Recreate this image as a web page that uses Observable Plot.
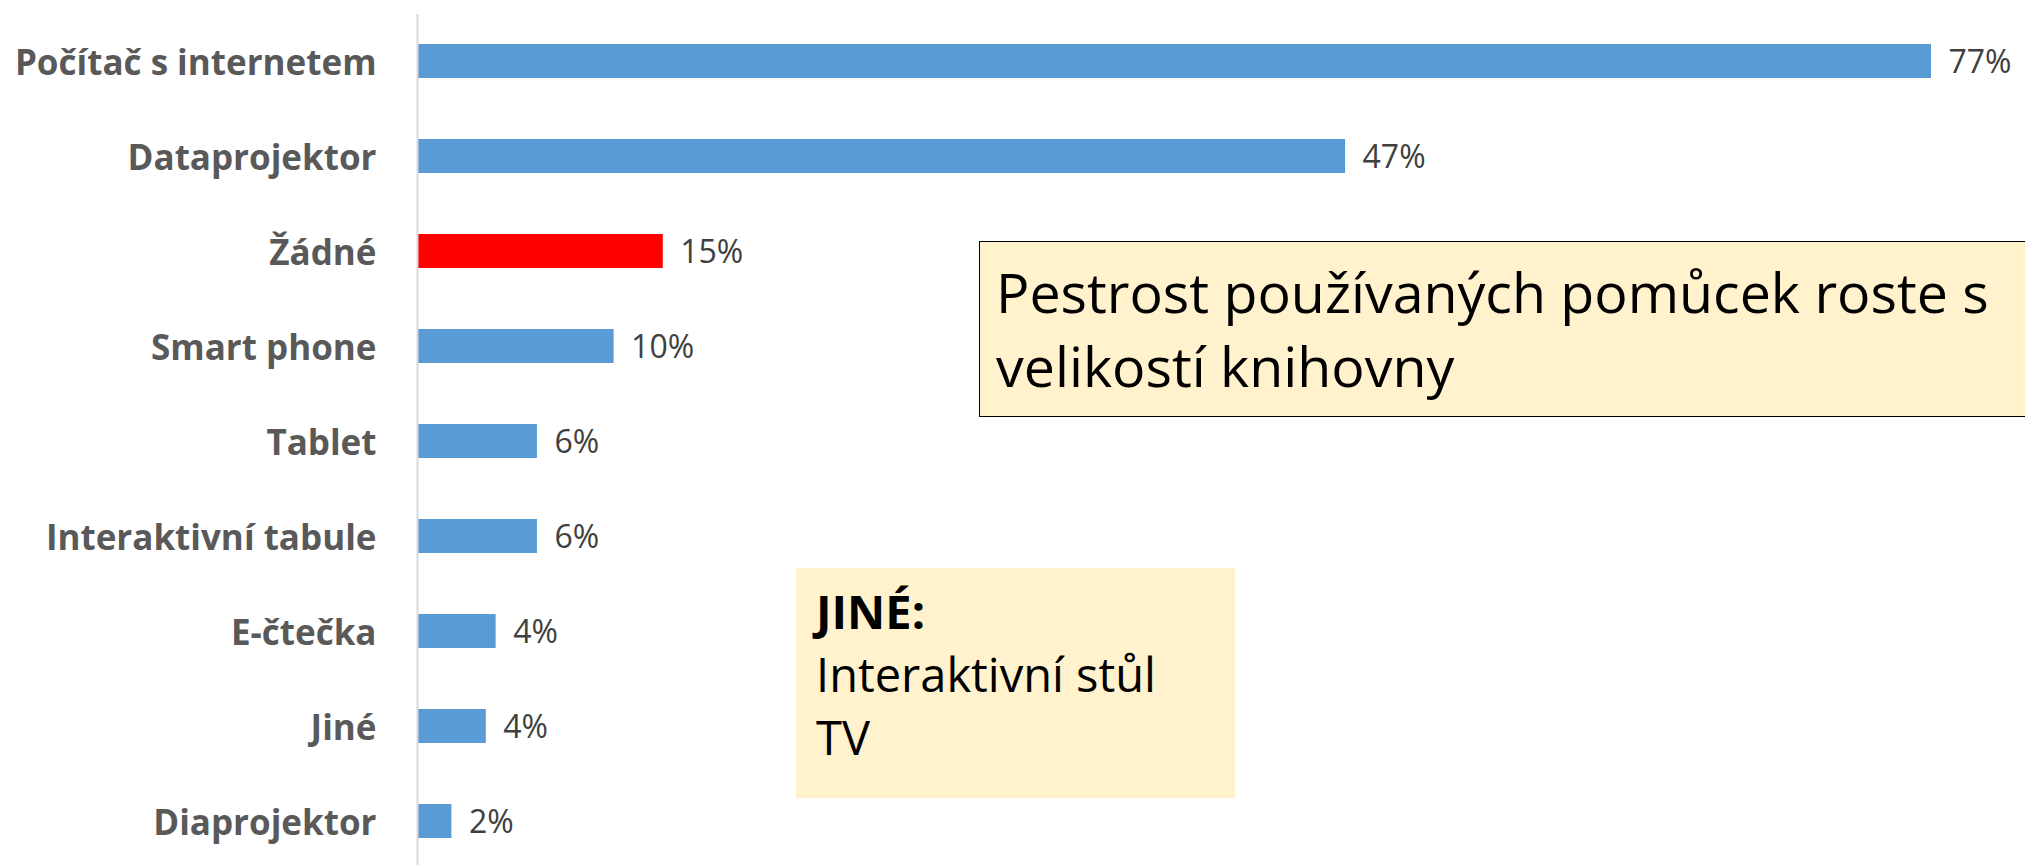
<!DOCTYPE html>
<html>
<head>
<meta charset="utf-8">
<script src="https://cdn.jsdelivr.net/npm/d3@7"></script>
<script src="https://cdn.jsdelivr.net/npm/@observablehq/plot@0.6"></script>
<style>
  html, body { margin: 0; padding: 0; background: #fff; overflow: hidden; }
  #wrap { position: relative; width: 2025px; height: 865px; overflow: hidden; font-family: "Open Sans", sans-serif; }
  #chart svg { display: block; }
  .note { position: absolute; box-sizing: border-box; background: #fff2cc; color: #000; white-space: nowrap; }
  #note1 { left: 979px; top: 241px; width: 1120px; height: 176px; border: 1.5px solid #000; font-size: 55.5px; line-height: 74px; padding: 13px 0 0 16px; }
  #note2 { left: 796px; top: 568px; width: 439px; height: 230px; font-size: 47px; line-height: 63px; padding: 12px 0 0 20px; }
</style>
</head>
<body>
<div id="wrap">
  <div id="chart"></div>
  <div class="note" id="note1">Pestrost používaných pomůcek roste s<br>velikostí knihovny</div>
  <div class="note" id="note2"><b>JINÉ:</b><br>Interaktivní stůl<br>TV</div>
</div>
<script>
const categories = ["Počítač s internetem", "Dataprojektor", "Žádné", "Smart phone", "Tablet", "Interaktivní tabule", "E-čtečka", "Jiné", "Diaprojektor"];
const values = [77, 47.2, 12.5, 10, 6.1, 6.1, 4, 3.5, 1.75];
const valueLabels = ["77%", "47%", "15%", "10%", "6%", "6%", "4%", "4%", "2%"];
const highlight = "Žádné";

const data = categories.map((c, i) => ({category: c, value: values[i], label: valueLabels[i]}));

const chart = Plot.plot({
  width: 2025,
  height: 865,
  marginLeft: 417,
  marginRight: 94,
  marginTop: 14,
  marginBottom: 0,
  style: {fontFamily: "'Open Sans', sans-serif", background: "#fff"},
  x: {domain: [0, 77], range: [417, 1931], axis: null},
  y: {domain: categories, range: [13.5, 868.5], paddingInner: 0.642, paddingOuter: 0.321, label: null},
  marks: [
    Plot.barX(data, {
      y: "category",
      x: "value",
      fill: d => d.category === highlight ? "#ff0000" : "#5b9bd5"
    }),
    Plot.ruleX([0], {stroke: "#d9d9d9", strokeWidth: 2}),
    Plot.text(data, {
      y: "category",
      x: "value",
      text: "label",
      textAnchor: "start",
      dx: 17,
      dy: 1,
      fontSize: 32,
      fill: "#404040"
    }),
    Plot.axisY({
      tickSize: 0,
      tickPadding: 41,
      fontSize: 35,
      fontWeight: "bold",
      fill: "#595959",
      dy: 2,
      label: null
    })
  ]
});
document.getElementById("chart").appendChild(chart);
</script>
</body>
</html>
